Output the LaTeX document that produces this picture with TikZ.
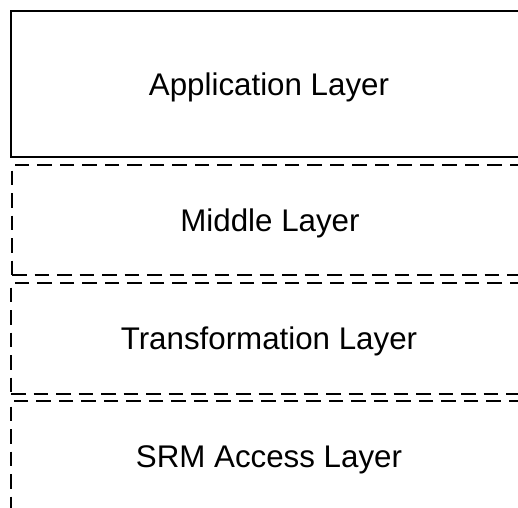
\documentclass[tikz,border=0pt]{standalone}
\usepackage{fontspec}
\setmainfont{Liberation Sans}
\usepackage{tikz}
\usepackage{xcolor}
\definecolor{LineColor}{HTML}{000000}
\newcommand\nodeapp{Application Layer}
\newcommand\nodemid{Middle Layer}
\newcommand\nodetrans{Transformation Layer}
\newcommand\nodesrm{SRM Access Layer}
\tikzstyle{layerstyle} = [rectangle, draw=LineColor, inner sep=0pt, minimum width=516pt, text height=22.4pt, text depth=0pt, font=\fontsize{31.3}{36}\selectfont]
\tikzstyle{sl} = [layerstyle, line width=1.8pt]
\tikzstyle{dl} = [layerstyle, line width=1.8pt, dash pattern=on 14.5pt off 8pt]
\tikzset{every picture/.style={x=1pt, y=-1pt}}

\begin{document}
\begin{tikzpicture}
\useasboundingbox (0, 0) rectangle (518, 507);
\clip (0, 0) rectangle (518, 507);
\node[sl, minimum height=146pt] (app) at (269, 84) {\nodeapp};
\node[dl, minimum height=110pt] (mid) at (270, 220) {\nodemid};
\node[dl, minimum height=111pt] (trans) at (269, 338.5) {\nodetrans};
\node[dl, minimum height=110pt] (srm) at (269, 456) {\nodesrm};
\end{tikzpicture}
\end{document}
